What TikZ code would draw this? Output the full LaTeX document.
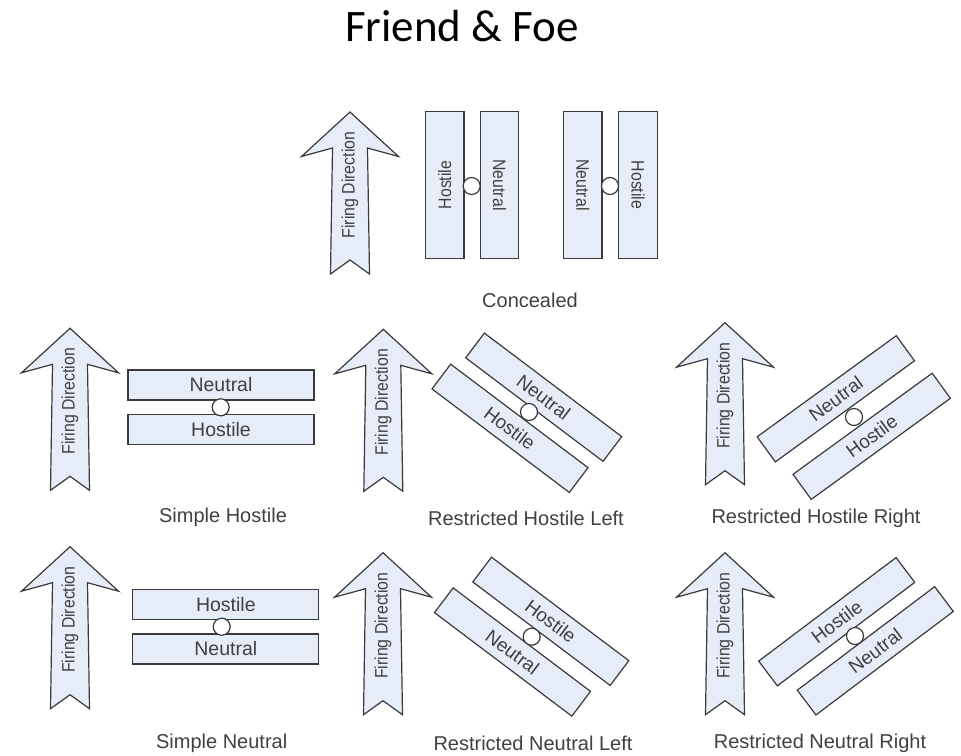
\documentclass[tikz,border=0pt]{standalone}
\usepackage{fontspec}
\setmainfont{Liberation Sans}
\newfontfamily\titlefont{Carlito}
\newfontfamily\vfont{Liberation Sans}[FakeStretch=0.88]
\definecolor{boxc}{HTML}{E6ECF8}
\definecolor{linec}{HTML}{3A3A3A}
\definecolor{txtc}{HTML}{404040}
\tikzset{
  fb/.style={draw=linec, fill=boxc, line width=1.2pt},
  lbl/.style={font=\fontsize{19.5}{22}\selectfont, text=txtc},
  vlbl/.style={font=\vfont\fontsize{18}{20}\selectfont, text=txtc},
  hbox/.style={fb, lbl, rectangle, minimum width=186pt, minimum height=30pt, inner sep=0pt},
  vbox/.style={fb, vlbl, rectangle, minimum width=146.5pt, minimum height=38.5pt, inner sep=0pt},
  rbox/.style={fb, font=\fontsize{19}{22}\selectfont, text=txtc, rectangle, minimum width=172pt, minimum height=31pt, inner sep=0pt},
  ring/.style={circle, draw=linec, fill=white, line width=1.2pt, minimum size=17pt, inner sep=0pt},
  captxt/.style={font=\fontsize{20}{24}\selectfont, text=txtc},
  fd/.style={vlbl, rotate=90, inner sep=0pt}
}
\newcommand\FireArrow[3]{%
  \begin{scope}[shift={(#2,#3)}]
    \draw[fb] (0,0) -- (48.5,44.5) -- (17.5,36) -- (19.5,162) -- (0,148)
      -- (-19.5,162) -- (-17.5,36) -- (-48.5,44.5) -- cycle;
    \node[fd] (#1) at (0,73) {Firing Direction};
  \end{scope}}
\begin{document}
\begin{tikzpicture}[x=1pt,y=-1pt]
\useasboundingbox (0,0) rectangle (961,755);
\node[font=\titlefont\fontsize{45}{54}\selectfont, anchor=base, text=black] (title) at (462,41.7) {Friend \& Foe};

% Concealed
\FireArrow{fa0}{350}{112}
\node[vbox, rotate=90]  (c1) at (444.7,185) {Hostile};
\node[vbox, rotate=-90] (c2) at (499.5,185) {Neutral};
\node[vbox, rotate=-90] (c3) at (582.8,185) {Neutral};
\node[vbox, rotate=-90] (c4) at (638,185) {Hostile};
\node[ring] (cr1) at (471.7,186) {};
\node[ring] (cr2) at (610,186) {};
\node[captxt] (capc) at (530,300) {Concealed};

% Simple Hostile
\FireArrow{fa1}{70}{328.3}
\node[hbox] (sh1) at (221,385) {Neutral};
\node[hbox] (sh2) at (221,429.3) {Hostile};
\node[ring] (shr) at (220.7,407.3) {};
\node[captxt] (capsh) at (223,517) {Simple Hostile};

% Restricted Hostile Left
\FireArrow{fa2}{383.3}{329.3}
\node[rbox, rotate=-37] (rhl1) at (543.7,397.2) {Neutral};
\node[rbox, rotate=-37] (rhl2) at (510,428.3) {Hostile};
\node[ring] (rhlr) at (529,412) {};
\node[captxt] (caprhl) at (526,518) {Restricted Hostile Left};

% Restricted Hostile Right
\FireArrow{fa3}{725}{322.7}
\node[rbox, rotate=36] (rhr1) at (835.8,398.8) {Neutral};
\node[rbox, rotate=36] (rhr2) at (871.7,436.3) {Hostile};
\node[ring] (rhrr) at (854,417) {};
\node[captxt] (caprhr) at (816,518) {Restricted Hostile Right};

% Simple Neutral
\FireArrow{fa4}{70}{546.7}
\node[hbox] (sn1) at (225.8,604.7) {Hostile};
\node[hbox] (sn2) at (225.8,649) {Neutral};
\node[ring] (snr) at (221.7,626.7) {};
\node[captxt] (capsn) at (221.7,743) {Simple Neutral};

% Restricted Neutral Left
\FireArrow{fa5}{383}{552.7}
\node[rbox, rotate=-37] (rnl1) at (550.8,621.3) {Hostile};
\node[rbox, rotate=-37] (rnl2) at (512.5,652) {Neutral};
\node[ring] (rnlr) at (531.7,636.7) {};
\node[captxt] (caprnl) at (533,743) {Restricted Neutral Left};

% Restricted Neutral Right
\FireArrow{fa6}{725}{552.7}
\node[rbox, rotate=37] (rnr1) at (836.7,621.7) {Hostile};
\node[rbox, rotate=37] (rnr2) at (875.3,650.8) {Neutral};
\node[ring] (rnrr) at (855,636) {};
\node[captxt] (caprnr) at (820,743) {Restricted Neutral Right};
\end{tikzpicture}
\end{document}
